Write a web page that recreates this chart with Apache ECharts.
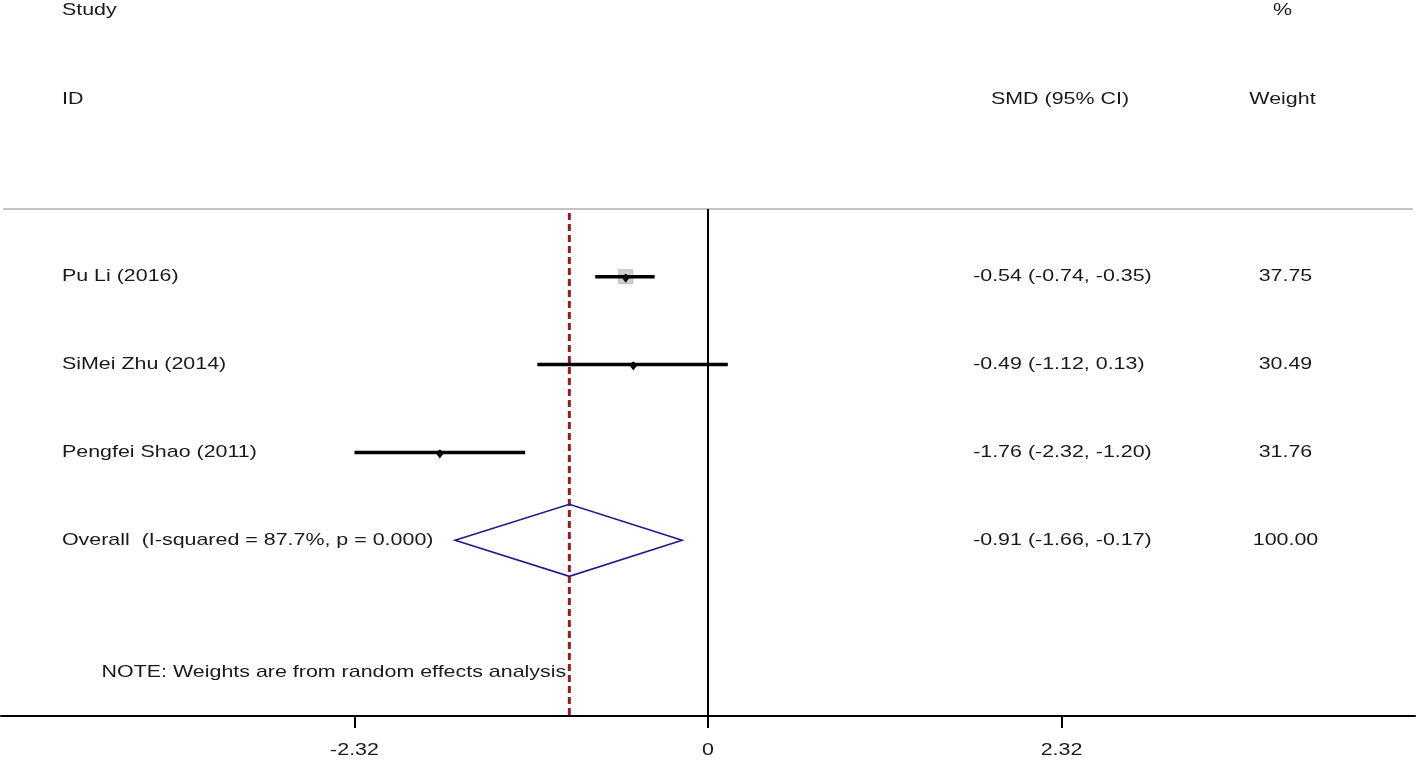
<!DOCTYPE html>
<html>
<head>
<meta charset="utf-8">
<script src="https://cdn.jsdelivr.net/npm/echarts@6/dist/echarts.min.js"></script>
<style>
  html, body { margin: 0; padding: 0; background: #ffffff; }
  #chart { width: 1418px; height: 760px; }
</style>
</head>
<body>
<div id="chart"></div>
<script>
// ---------- data ----------
const studies = ['Pu Li (2016)', 'SiMei Zhu (2014)', 'Pengfei Shao (2011)'];
const smd = [-0.54, -0.49, -1.76];
const lower = [-0.74, -1.12, -2.32];
const upper = [-0.35, 0.13, -1.20];
const weights = ['37.75', '30.49', '31.76'];

const overallLabel = 'Overall  (I-squared = 87.7%, p = 0.000)';
const overallSmd = [-0.91];
const overallLower = [-1.66];
const overallUpper = [-0.17];
const overallWeight = ['100.00'];

const tickValues = [-2.32, 0, 2.32];
const tickLabels = ['-2.32', '0', '2.32'];

const headerStudy = ['Study', 'ID'];
const headerEffect = 'SMD (95% CI)';
const headerWeight = ['%', 'Weight'];
const noteText = 'NOTE: Weights are from random effects analysis';

// ---------- layout constants ----------
const FONT = '"Liberation Sans", Arial, sans-serif';
const FS = 17;
const SX = 1.26;            // horizontal stretch of the reference text
const TEXT_COLOR = '#1a1a1a';
const ROW_HEADER_LINE = 0.23;
const ROW_AXIS = 6;
const ROW_OVERALL = 4;
const ROW_NOTE = 5.5;
const ROW_STUDY = -2.03;
const ROW_ID = -1.02;
const ROW_TICKLABEL = 6.39;
const X_LEFT_TEXT = -4.24;
const X_NOTE = -3.98;
const X_EFFECT = 1.74;
const X_EFFECT_HEAD = 1.857;
const X_WEIGHT = 3.79;
const X_WEIGHT_HEAD = 3.77;

const fmt = v => v.toFixed(2);
const ciText = (m, l, u) => fmt(m) + ' (' + fmt(l) + ', ' + fmt(u) + ')';

// text items: [x, row, text, align]
const textItems = [];
textItems.push([X_LEFT_TEXT, ROW_STUDY, headerStudy[0], 'left']);
textItems.push([X_LEFT_TEXT, ROW_ID, headerStudy[1], 'left']);
textItems.push([X_EFFECT_HEAD, ROW_ID, headerEffect, 'left']);
textItems.push([X_WEIGHT_HEAD, ROW_STUDY, headerWeight[0], 'center']);
textItems.push([X_WEIGHT_HEAD, ROW_ID, headerWeight[1], 'center']);
studies.forEach((s, i) => {
  textItems.push([X_LEFT_TEXT, i + 1, s, 'left']);
  textItems.push([X_EFFECT, i + 1, ciText(smd[i], lower[i], upper[i]), 'left']);
  textItems.push([X_WEIGHT, i + 1, weights[i], 'center']);
});
textItems.push([X_LEFT_TEXT, ROW_OVERALL, overallLabel, 'left']);
textItems.push([X_EFFECT, ROW_OVERALL, ciText(overallSmd[0], overallLower[0], overallUpper[0]), 'left']);
textItems.push([X_WEIGHT, ROW_OVERALL, overallWeight[0], 'center']);
textItems.push([X_NOTE, ROW_NOTE, noteText, 'left']);
tickValues.forEach((v, i) => textItems.push([v, ROW_TICKLABEL, tickLabels[i], 'center']));

const chart = echarts.init(document.getElementById('chart'), null, { renderer: 'canvas' });

const option = {
  backgroundColor: '#ffffff',
  animation: false,
  grid: { left: 1, right: 3, top: 0, bottom: 44, containLabel: false },
  xAxis: {
    type: 'value',
    position: 'bottom',
    min: -4.64, max: 4.64, interval: 2.32,
    axisLine: { show: true, onZero: false, lineStyle: { color: '#000', width: 2 } },
    axisTick: { show: true, customValues: tickValues, length: 12, lineStyle: { color: '#000', width: 2 } },
    axisLabel: { show: false },
    splitLine: { show: false }
  },
  yAxis: {
    type: 'value', min: -2.15, max: 6, inverse: true, show: false,
    splitLine: { show: false }
  },
  series: [
    // header rule
    {
      type: 'custom', silent: true, clip: false, z: 1,
      data: [[0]],
      renderItem: (params, api) => {
        const a = api.coord([-4.64, ROW_HEADER_LINE]);
        const b = api.coord([4.64, ROW_HEADER_LINE]);
        return { type: 'line', shape: { x1: a[0] + 2, y1: a[1], x2: b[0] - 2, y2: b[1] },
                 style: { stroke: '#c4c4c4', lineWidth: 2 } };
      }
    },
    // null line at 0
    {
      type: 'custom', silent: true, clip: false, z: 2,
      data: [[0]],
      renderItem: (params, api) => {
        const a = api.coord([api.value(0), ROW_HEADER_LINE]);
        const b = api.coord([api.value(0), ROW_AXIS]);
        return { type: 'line', shape: { x1: a[0], y1: a[1], x2: b[0], y2: b[1] },
                 style: { stroke: '#000', lineWidth: 2 } };
      }
    },
    // overall effect dashed line
    {
      type: 'custom', silent: true, clip: false, z: 3,
      data: overallSmd.map(v => [v]),
      renderItem: (params, api) => {
        const a = api.coord([api.value(0), ROW_HEADER_LINE]);
        const b = api.coord([api.value(0), ROW_AXIS]);
        return { type: 'line', shape: { x1: a[0], y1: a[1] + 4, x2: b[0], y2: b[1] },
                 style: { stroke: '#9b1c1c', lineWidth: 3, lineDash: [7, 4] } };
      }
    },
    // study CIs + boxes
    {
      type: 'custom', silent: true, clip: false, z: 4,
      data: studies.map((s, i) => [lower[i], upper[i], smd[i], i + 1]),
      renderItem: (params, api) => {
        const y = api.value(3);
        const a = api.coord([api.value(0), y]);
        const b = api.coord([api.value(1), y]);
        const c = api.coord([api.value(2), y]);
        const children = [];
        if (params.dataIndex === 0) {
          children.push({ type: 'rect', shape: { x: c[0] - 7, y: c[1] - 7, width: 14, height: 14 },
                          style: { fill: '#cfcfcf', stroke: '#bdbdbd', lineWidth: 1 } });
        }
        children.push({ type: 'line', shape: { x1: a[0], y1: a[1], x2: b[0], y2: b[1] },
                        style: { stroke: '#000', lineWidth: 3.5 } });
        children.push({ type: 'polygon', shape: { points: [[c[0] - 4.5, c[1]], [c[0], c[1] - 3], [c[0] + 4.5, c[1]], [c[0], c[1] + 6]] },
                        style: { fill: '#000' } });
        return { type: 'group', children };
      }
    },
    // overall diamond
    {
      type: 'custom', silent: true, clip: false, z: 5,
      data: overallSmd.map((v, i) => [overallLower[i], overallUpper[i], v, ROW_OVERALL]),
      renderItem: (params, api) => {
        const y = api.value(3);
        const l = api.coord([api.value(0), y]);
        const u = api.coord([api.value(1), y]);
        const c = api.coord([api.value(2), y]);
        const h = 36;
        return { type: 'polygon',
                 shape: { points: [[l[0], l[1]], [c[0], c[1] - h], [u[0], u[1]], [c[0], c[1] + h]] },
                 style: { fill: 'rgba(0,0,0,0)', stroke: '#1c1c8c', lineWidth: 1.6 } };
      }
    },
    // all texts
    {
      type: 'custom', silent: true, clip: false, z: 6,
      data: textItems.map(t => [t[0], t[1]]),
      renderItem: (params, api) => {
        const t = textItems[params.dataIndex];
        const p = api.coord([api.value(0), api.value(1)]);
        return { type: 'text', x: p[0], y: p[1], scaleX: SX, scaleY: 1,
                 style: { x: 0, y: 0, text: t[2], fontFamily: FONT, fontSize: FS, fill: TEXT_COLOR,
                          align: t[3], verticalAlign: 'middle' } };
      }
    }
  ]
};
chart.setOption(option);
</script>
</body>
</html>
